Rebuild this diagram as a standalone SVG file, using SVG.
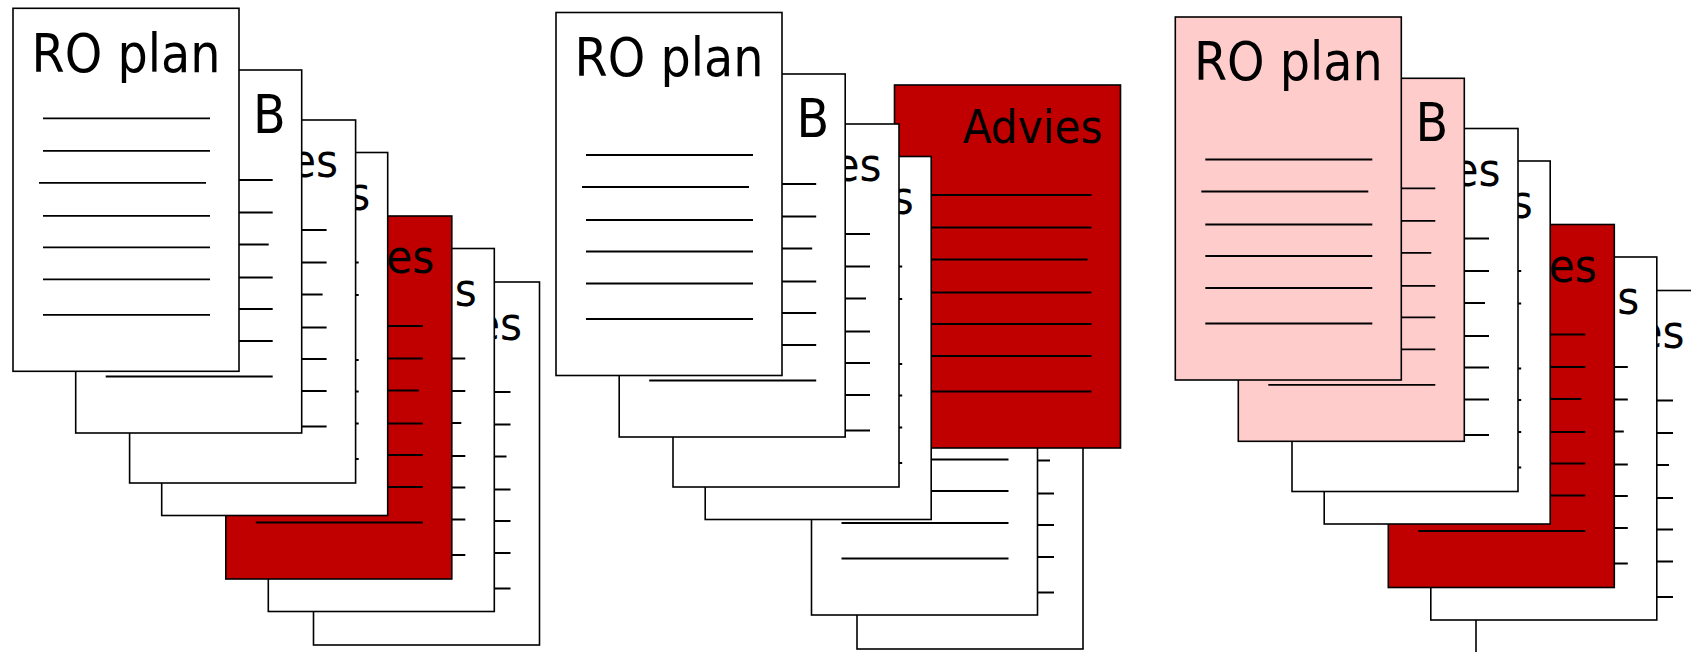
<svg xmlns="http://www.w3.org/2000/svg" xmlns:xlink="http://www.w3.org/1999/xlink" width="1691" height="652" viewBox="0 0 1691 652">
<style>
.page{fill:#FFFFFF;stroke:#000000;stroke-width:1.6}
.red{fill:#C00000}
.pink{fill:#FFCCCC}
.ln{stroke:#000000;stroke-width:1.8;fill:none}
.big{font-family:"DejaVu Sans Condensed","DejaVu Sans",sans-serif;font-size:53px;fill:#000000}
.adv{font-family:"DejaVu Sans Condensed","DejaVu Sans",sans-serif;font-size:47px;fill:#000000;text-anchor:end}
</style>
<defs>
<g id="lines7">
<line class="ln" x1="30" y1="110" x2="197" y2="110"/>
<line class="ln" x1="30" y1="142.5" x2="197" y2="142.5"/>
<line class="ln" x1="26" y1="174.5" x2="193" y2="174.5"/>
<line class="ln" x1="30" y1="207.5" x2="197" y2="207.5"/>
<line class="ln" x1="30" y1="239" x2="197" y2="239"/>
<line class="ln" x1="30" y1="271" x2="197" y2="271"/>
<line class="ln" x1="30" y1="306.5" x2="197" y2="306.5"/>
</g>
<g id="lines6">
<line class="ln" x1="30" y1="142.5" x2="197" y2="142.5"/>
<line class="ln" x1="26" y1="174.5" x2="193" y2="174.5"/>
<line class="ln" x1="30" y1="207.5" x2="197" y2="207.5"/>
<line class="ln" x1="30" y1="239" x2="197" y2="239"/>
<line class="ln" x1="30" y1="271" x2="197" y2="271"/>
<line class="ln" x1="30" y1="306.5" x2="197" y2="306.5"/>
</g>
</defs>

<!-- Stack 1 -->
<g id="s1-p7" transform="translate(313.5,282)"><rect class="page" width="226" height="363"/><use xlink:href="#lines7"/><text class="adv" x="208.5" y="57.5">es</text></g>
<g id="s1-p6" transform="translate(268.3,248.5)"><rect class="page" width="226" height="363"/><use xlink:href="#lines7"/><text class="adv" x="208.5" y="57">s</text></g>
<g id="s1-p5" transform="translate(225.8,216)"><rect class="page red" width="226" height="363"/><use xlink:href="#lines7"/><text class="adv" x="208.5" y="57.3">es</text></g>
<g id="s1-p4" transform="translate(161.7,152.5)"><rect class="page" width="226" height="363"/><use xlink:href="#lines7"/><text class="adv" x="208.5" y="57">s</text></g>
<g id="s1-p3" transform="translate(129.6,120)"><rect class="page" width="226" height="363"/><use xlink:href="#lines7"/><text class="adv" x="208.5" y="57.3">es</text></g>
<g id="s1-p2" transform="translate(75.7,70)"><rect class="page" width="226" height="363"/><use xlink:href="#lines7"/><text class="big" x="210" y="62.7" text-anchor="end">B</text></g>
<g id="s1-p1" transform="translate(13,8.3)"><rect class="page" width="226" height="363"/><use xlink:href="#lines7"/><text class="big" x="113" y="63.4" text-anchor="middle">RO plan</text></g>

<!-- Stack 2 -->
<g id="s2-p7" transform="translate(857,286)"><rect class="page" width="226" height="363"/><use xlink:href="#lines7"/></g>
<g id="s2-p6" transform="translate(811.5,252)"><rect class="page" width="226" height="363"/><use xlink:href="#lines7"/></g>
<g id="s2-p5" transform="translate(894.5,85)"><rect class="page red" width="226" height="363"/><use xlink:href="#lines7"/><text class="adv" x="208" y="57.7">Advies</text></g>
<g id="s2-p4" transform="translate(705.2,156.5)"><rect class="page" width="226" height="363"/><use xlink:href="#lines7"/><text class="adv" x="208.5" y="57">s</text></g>
<g id="s2-p3" transform="translate(673,124)"><rect class="page" width="226" height="363"/><use xlink:href="#lines7"/><text class="adv" x="208.5" y="57.3">es</text></g>
<g id="s2-p2" transform="translate(619.2,74)"><rect class="page" width="226" height="363"/><use xlink:href="#lines7"/><text class="big" x="210" y="62.7" text-anchor="end">B</text></g>
<g id="s2-p1" transform="translate(556,12.5)"><rect class="page" width="226" height="363"/><use xlink:href="#lines6"/><text class="big" x="113" y="63.4" text-anchor="middle">RO plan</text></g>

<!-- Stack 3 -->
<g id="s3-p7" transform="translate(1476,290.5)"><rect class="page" width="226" height="363"/><use xlink:href="#lines7"/><text class="adv" x="208.5" y="57.5">es</text></g>
<g id="s3-p6" transform="translate(1430.8,257)"><rect class="page" width="226" height="363"/><use xlink:href="#lines7"/><text class="adv" x="208.5" y="57">s</text></g>
<g id="s3-p5" transform="translate(1388.3,224.5)"><rect class="page red" width="226" height="363"/><use xlink:href="#lines7"/><text class="adv" x="208.5" y="57.3">es</text></g>
<g id="s3-p4" transform="translate(1324.2,161)"><rect class="page" width="226" height="363"/><use xlink:href="#lines7"/><text class="adv" x="208.5" y="57">s</text></g>
<g id="s3-p3" transform="translate(1292,128.5)"><rect class="page" width="226" height="363"/><use xlink:href="#lines7"/><text class="adv" x="208.5" y="57.3">es</text></g>
<g id="s3-p2" transform="translate(1238.3,78.3)"><rect class="page pink" width="226" height="363"/><use xlink:href="#lines7"/><text class="big" x="210" y="62.7" text-anchor="end">B</text></g>
<g id="s3-p1" transform="translate(1175.3,17)"><rect class="page pink" width="226" height="363"/><use xlink:href="#lines6"/><text class="big" x="113" y="63.4" text-anchor="middle">RO plan</text></g>
</svg>
